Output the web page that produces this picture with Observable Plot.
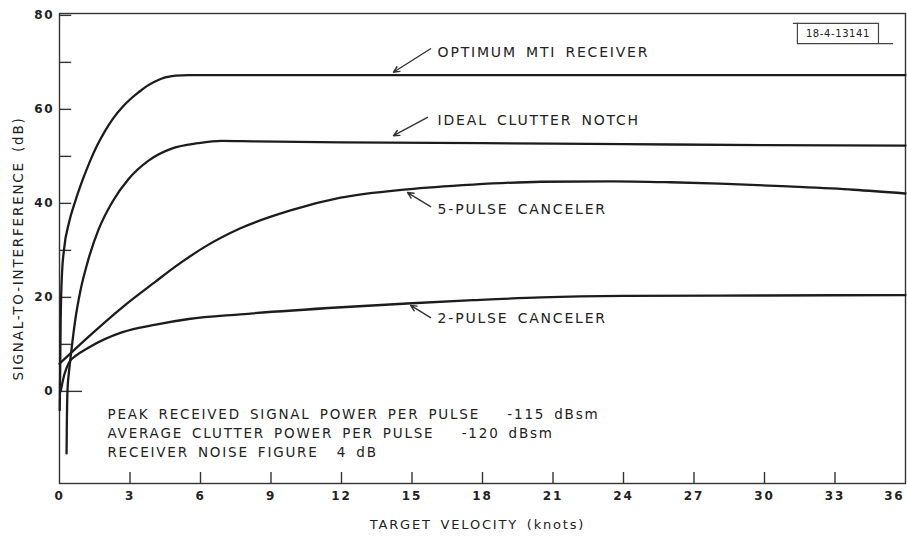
<!DOCTYPE html>
<html><head><meta charset="utf-8">
<script src="https://cdn.jsdelivr.net/npm/d3@7"></script>
<script src="https://cdn.jsdelivr.net/npm/@observablehq/plot@0.6"></script>
<style>
html,body{margin:0;padding:0;background:#fff;}
#chart svg text{letter-spacing:1.8px;word-spacing:3px;}
</style></head><body><div id="chart"></div>
<script>
// Target velocity (knots) and signal-to-interference (dB)
const optimumX = [0.01, 0.03, 0.05, 0.1, 0.2, 0.4, 0.68, 1.0, 1.3, 1.6, 1.96, 2.3, 2.68, 3.0, 3.36, 3.7, 4.09, 4.5, 4.94, 5.5, 6.5, 9, 15, 24, 36];
const optimumY = [-4, 5, 15, 24.4, 30.5, 35.8, 40.6, 45.2, 49.0, 52.3, 55.6, 58.2, 60.5, 62.1, 63.6, 64.9, 66.0, 66.8, 67.2, 67.3, 67.3, 67.3, 67.3, 67.3, 67.3];
const notchX = [0.3, 0.31, 0.34, 0.4, 0.47, 0.57, 0.68, 0.89, 1.19, 1.66, 2.26, 2.94, 3.79, 4.8, 5.9, 6.9, 8.3, 12, 18, 24, 30, 36];
const notchY = [-13.2, -8, 0.2, 4, 7.2, 11.4, 15.5, 21.4, 27.4, 34.4, 40.4, 45.2, 49.1, 51.7, 52.8, 53.3, 53.2, 53.0, 52.8, 52.6, 52.4, 52.3];
const pulse5X = [0, 0.47, 1.23, 2.7, 4.1, 5.0, 6.2, 7.7, 9.83, 11.96, 14.8, 17.6, 20.5, 23.5, 26, 28.1, 31, 33.8, 36];
const pulse5Y = [5.9, 8.1, 11.6, 18.0, 23.4, 26.8, 30.8, 34.7, 38.5, 41.2, 43.0, 44.0, 44.6, 44.7, 44.5, 44.2, 43.6, 42.9, 42.1];
const pulse2X = [0.05, 0.2, 0.4, 0.7, 1.23, 2.68, 4.1, 5.5, 7.7, 12, 14.8, 17.6, 20.5, 24, 30, 36];
const pulse2Y = [0, 3.5, 6.1, 7.6, 9.3, 12.6, 14.2, 15.4, 16.4, 17.9, 18.7, 19.4, 20, 20.3, 20.4, 20.5];

const seriesNames = ["OPTIMUM MTI RECEIVER", "IDEAL CLUTTER NOTCH", "5-PULSE CANCELER", "2-PULSE CANCELER"];
const seriesX = [optimumX, notchX, pulse5X, pulse2X];
const seriesY = [optimumY, notchY, pulse5Y, pulse2Y];

// label anchor positions (data units) and arrow tails/heads
const labelX = [16.09, 16.09, 16.09, 16.09];
const labelY = [72.1, 57.6, 38.7, 15.5];
const arrowX1 = [15.79, 15.66, 15.79, 15.79];
const arrowY1 = [72.9, 58.3, 39.3, 15.7];
const arrowX2 = [14.21, 14.21, 14.81, 14.94];
const arrowY2 = [67.9, 54.4, 42.3, 18.3];

const noteLines = [
  "PEAK RECEIVED SIGNAL POWER PER PULSE\u00a0\u00a0\u00a0-115 dBsm",
  "AVERAGE CLUTTER POWER PER PULSE\u00a0\u00a0\u00a0-120 dBsm",
  "RECEIVER NOISE FIGURE\u00a0\u00a04 dB"
];
const noteX = 2.04;
const noteY = [-4.9, -8.9, -13.0];

const yMajorTicks = [0, 20, 40, 60, 80];
const yMinorTicks = [10, 30, 50, 70];
const xTickLabels = [0, 3, 6, 9, 12, 15, 18, 21, 24, 27, 30, 33];
const xLastLabel = [36];
const xTickMarks = [3, 6, 9, 12, 15, 18, 21, 24, 27, 30, 33];

const figId = "18-4-13141";
const idBoxX = [31.4, 34.85];
const idBoxY = [74.0, 78.3];
const idTopExtX = [31.23, 34.85];
const idBottomExtX = [31.4, 35.49];

const xTitle = "TARGET VELOCITY (knots)";
const yTitle = "SIGNAL-TO-INTERFERENCE (dB)";

const yMin = -19.6, yMax = 80.4;

const lineData = seriesNames.flatMap((name, s) => seriesX[s].map((x, i) => ({series: name, x, y: seriesY[s][i]})));
const labels = seriesNames.map((name, i) => ({text: name, x: labelX[i], y: labelY[i]}));
const arrows = seriesNames.map((name, i) => ({x1: arrowX1[i], y1: arrowY1[i], x2: arrowX2[i], y2: arrowY2[i]}));
const notes = noteLines.map((t, i) => ({text: t, x: noteX, y: noteY[i]}));
const yTicksAll = [...yMajorTicks, ...yMinorTicks];
const idHoriz = [
  {x1: idTopExtX[0], x2: idTopExtX[1], y: idBoxY[1]},
  {x1: idBottomExtX[0], x2: idBottomExtX[1], y: idBoxY[0]}
];
const idVert = idBoxX.map(x => ({x, y1: idBoxY[0], y2: idBoxY[1]}));

const ink = "#222";
const chart = Plot.plot({
  width: 907, height: 537,
  marginLeft: 59, marginRight: 2, marginTop: 13, marginBottom: 54,
  x: {domain: [0, 36], axis: null},
  y: {domain: [yMin, yMax], axis: null},
  style: {fontFamily: "'DejaVu Sans', sans-serif", color: ink, background: "#fff", overflow: "visible"},
  marks: [
    Plot.frame({stroke: "#333", strokeWidth: 1.4}),
    Plot.ruleY(yTicksAll, {y: d => d, x1: 0, x2: d => d === 0 ? 0.98 : 0.52, stroke: "#333", strokeWidth: 1.4}),
    Plot.ruleX(xTickMarks, {x: d => d, y1: yMin, y2: yMin + 2.35, stroke: "#333", strokeWidth: 1.4}),
    Plot.text(yMajorTicks, {x: 0, y: d => d, text: d => String(d), textAnchor: "end", dx: -5, fontSize: 12, fontWeight: "bold", fill: ink}),
    Plot.text(xTickLabels, {x: d => d, y: yMin, text: d => String(d), dy: 13, fontSize: 12, fontWeight: "bold", fill: ink}),
    Plot.text(xLastLabel, {x: d => d, y: yMin, text: d => String(d), dy: 13, dx: -1, textAnchor: "end", fontSize: 12, fontWeight: "bold", fill: ink}),
    Plot.line(lineData, {x: "x", y: "y", z: "series", curve: "monotone-x", stroke: "#1c1c1c", strokeWidth: 2.3}),
    Plot.arrow(arrows, {x1: "x1", y1: "y1", x2: "x2", y2: "y2", stroke: "#333", strokeWidth: 1.4, headLength: 7, headAngle: 50}),
    Plot.text(labels, {x: "x", y: "y", text: "text", textAnchor: "start", lineAnchor: "middle", fontSize: 14, fill: ink}),
    Plot.text(notes, {x: "x", y: "y", text: "text", textAnchor: "start", lineAnchor: "middle", fontSize: 13.5, fill: ink}),
    Plot.ruleY(idHoriz, {y: "y", x1: "x1", x2: "x2", stroke: "#444", strokeWidth: 1.2}),
    Plot.ruleX(idVert, {x: "x", y1: "y1", y2: "y2", stroke: "#444", strokeWidth: 1.2}),
    Plot.text([figId], {x: (idBoxX[0] + idBoxX[1]) / 2, y: (idBoxY[0] + idBoxY[1]) / 2, text: d => d, fontSize: 10, fill: ink, lineAnchor: "middle"}),
    Plot.text([xTitle], {frameAnchor: "bottom", dy: 45, dx: -5, textAnchor: "middle", text: d => d, fontSize: 13, fill: ink}),
    Plot.text([yTitle], {frameAnchor: "left", dx: -41, textAnchor: "middle", lineAnchor: "middle", rotate: -90, text: d => d, fontSize: 13.5, fill: ink})
  ]
});
document.getElementById("chart").appendChild(chart);
d3.select(chart).selectAll("text").filter(function() { return this.textContent === figId; }).style("letter-spacing", "0.6px");
</script></body></html>
